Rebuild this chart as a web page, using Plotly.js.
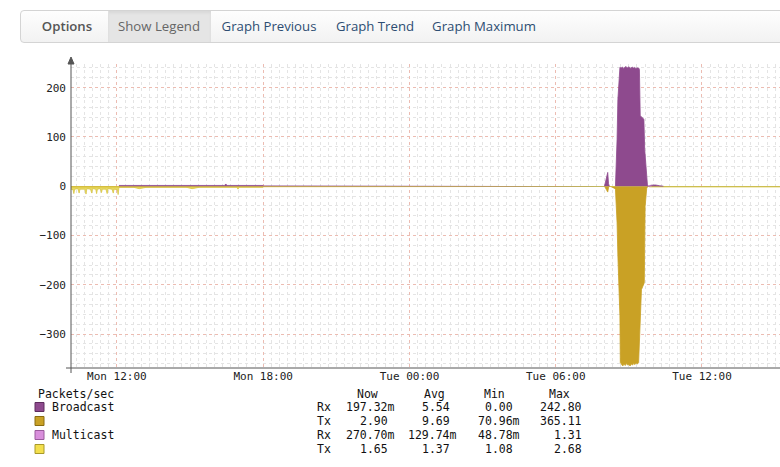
<!DOCTYPE html>
<html>
<head>
<meta charset="utf-8">
<script src="https://cdn.plot.ly/plotly-3.0.1.min.js"></script>
<style>
  html, body { margin:0; padding:0; background:#fff; width:780px; height:467px; overflow:hidden; }
  #chart { position:absolute; left:0; top:0; width:780px; height:467px; }
  #menu { position:absolute; left:20px; top:10px; width:800px; height:31px; border:1px solid #d4d4d4; border-radius:4px;
          background:linear-gradient(#fefefe,#f2f2f2); font-family:'Open Sans', sans-serif; font-size:13.2px; z-index:5; }
  #menu span { position:absolute; top:0; height:31px; line-height:31px; white-space:nowrap; }
</style>
</head>
<body>
<div id="chart"></div>
<div id="menu"></div>
<script>
// ---------- menu ----------
const menuItems = ['Options', 'Show Legend', 'Graph Previous', 'Graph Trend', 'Graph Maximum'];

// ---------- series data (Packets/sec); null = no visible data ----------
const bcRxTime = ['2014-03-10 12:03','2014-03-10 12:05','2014-03-10 13:30','2014-03-10 14:10','2014-03-10 15:00',
  '2014-03-10 16:25','2014-03-10 16:28','2014-03-10 16:31','2014-03-10 18:00','2014-03-10 18:02','2014-03-11 07:58',
  '2014-03-11 08:00','2014-03-11 08:03','2014-03-11 08:06','2014-03-11 08:08','2014-03-11 08:10','2014-03-11 08:12','2014-03-11 08:14',
  '2014-03-11 08:25','2014-03-11 08:27',
  '2014-03-11 08:28','2014-03-11 08:31','2014-03-11 08:33','2014-03-11 08:35','2014-03-11 08:38','2014-03-11 08:41',
  '2014-03-11 08:44','2014-03-11 08:47','2014-03-11 08:50','2014-03-11 08:53','2014-03-11 08:56','2014-03-11 08:59',
  '2014-03-11 09:02','2014-03-11 09:05','2014-03-11 09:08','2014-03-11 09:11','2014-03-11 09:14','2014-03-11 09:17',
  '2014-03-11 09:20','2014-03-11 09:24','2014-03-11 09:26','2014-03-11 09:27','2014-03-11 09:28','2014-03-11 09:32',
  '2014-03-11 09:37','2014-03-11 09:39','2014-03-11 09:41','2014-03-11 09:43','2014-03-11 09:46','2014-03-11 09:55',
  '2014-03-11 10:05','2014-03-11 10:15','2014-03-11 10:25','2014-03-11 10:27'];
const bcRxVal = [null,1.5,1.5,2,1.5,
  1.5,4.5,1.5,1.5,null,null,
  0,10,22,28,5,0,null,
  null,0,
  20,95,176,217,241,240,
  242,239,241,243,240,242,
  241,239,242,240,241,239,
  240,240,237,190,143,140,
  136,75,50,28,0,2,
  2.5,1,0,null];

const bcTxTime = ['2014-03-10 10:07','2014-03-10 12:03','2014-03-10 12:05','2014-03-10 18:00','2014-03-10 18:02','2014-03-11 07:58',
  '2014-03-11 08:00','2014-03-11 08:03','2014-03-11 08:08','2014-03-11 08:10','2014-03-11 08:12','2014-03-11 08:14',
  '2014-03-11 08:25','2014-03-11 08:27','2014-03-11 08:31',
  '2014-03-11 08:33','2014-03-11 08:35','2014-03-11 08:38','2014-03-11 08:39','2014-03-11 08:42','2014-03-11 08:45',
  '2014-03-11 08:48','2014-03-11 08:51','2014-03-11 08:54','2014-03-11 08:57','2014-03-11 09:00','2014-03-11 09:03',
  '2014-03-11 09:06','2014-03-11 09:09','2014-03-11 09:12','2014-03-11 09:15','2014-03-11 09:18','2014-03-11 09:21',
  '2014-03-11 09:24','2014-03-11 09:27','2014-03-11 09:31','2014-03-11 09:38','2014-03-11 09:40','2014-03-11 09:44',
  '2014-03-11 09:47','2014-03-11 09:49'];
const bcTxVal = [-2,-2,-1.5,-1.5,null,null,
  0,-4,-12,-3,0,null,
  null,-6,-74,
  -141,-195,-263,-358,-363,-365,
  -361,-364,-360,-363,-362,-365,
  -361,-363,-360,-362,-359,-361,
  -358,-298,-210,-196,-41,-4,
  0,null];

const mcRxTime = ['2014-03-11 09:48','2014-03-11 09:50','2014-03-11 09:53','2014-03-11 09:56'];
const mcRxVal = [0,1.3,0.5,0];

const mcTxTime = ['2014-03-10 10:07','2014-03-10 10:12','2014-03-10 10:14','2014-03-10 10:16','2014-03-10 10:24','2014-03-10 10:27',
  '2014-03-10 10:29','2014-03-10 10:41','2014-03-10 10:44','2014-03-10 10:46','2014-03-10 10:55','2014-03-10 10:58',
  '2014-03-10 11:00','2014-03-10 11:08','2014-03-10 11:10','2014-03-10 11:12','2014-03-10 11:19','2014-03-10 11:22',
  '2014-03-10 11:24','2014-03-10 11:33','2014-03-10 11:36','2014-03-10 11:38','2014-03-10 11:48','2014-03-10 11:51',
  '2014-03-10 11:53','2014-03-10 12:01','2014-03-10 12:03','2014-03-10 12:05','2014-03-10 12:40','2014-03-10 12:55',
  '2014-03-10 13:14','2014-03-10 14:50','2014-03-10 15:05','2014-03-10 15:24','2014-03-10 16:55','2014-03-10 16:58',
  '2014-03-10 17:01','2014-03-10 18:00','2014-03-10 18:02','2014-03-11 09:47','2014-03-11 09:50','2014-03-11 11:00',
  '2014-03-11 11:03','2014-03-11 11:06','2014-03-11 14:00','2014-03-11 14:03','2014-03-11 14:06','2014-03-11 15:12'];
const mcTxVal = [-6,-7,-15,-6,-5,-14,
  -6,-6,-16,-5,-6,-14,
  -5,-6,-15,-6,-5,-13,
  -6,-6,-15,-5,-6,-14,
  -6,-7,-17,-2,-2,-5,
  -2,-2,-5,-2,-2,-6,
  -2,-2,null,null,-1.5,-1.5,
  -3,-1.5,-1.5,-3,-1.5,-1.5];

// ---------- legend table ----------
const legendTitle = 'Packets/sec';
const legendNames = ['Broadcast', '', 'Multicast', ''];
const legendDirs = ['Rx', 'Tx', 'Rx', 'Tx'];
const statHeaders = ['Now', 'Avg', 'Min', 'Max'];
const nowVals = ['197.32m', '2.90', '270.70m', '1.65'];
const avgVals = ['5.54', '9.69', '129.74m', '1.37'];
const minVals = ['0.00', '70.96m', '48.78m', '1.08'];
const maxVals = ['242.80', '365.11', '1.31', '2.68'];

// ---------- styles ----------
const colors = ['#8e4a8e', '#c9a125', '#d98fdc', '#f3df4d'];
const borders = ['#5e2c5e', '#8a6c12', '#9a5a9c', '#a8992a'];

// menu
const menuPos = [[0, 87, 46], [87, 190, 138], [190, 310, 248], [310, 408, 354], [408, 530, 463]];
const menu = document.getElementById('menu');
menuItems.forEach((t, i) => {
  const s = document.createElement('span');
  const [a, b, c] = menuPos[i];
  s.textContent = t;
  s.style.left = c + 'px';
  s.style.transform = 'translateX(-50%)';
  if (i === 0) { s.style.color = '#555'; s.style.fontWeight = '600'; }
  else if (i === 1) { s.style.color = '#666'; }
  else { s.style.color = '#2d4d72'; }
  menu.appendChild(s);
  if (i === 1) {
    const bg = document.createElement('span');
    bg.style.left = a + 'px'; bg.style.width = (b - a) + 'px';
    bg.style.background = '#e5e5e5'; bg.style.zIndex = '-1';
    bg.style.boxShadow = 'inset 0 2px 3px rgba(0,0,0,0.06)';
    menu.insertBefore(bg, menu.firstChild);
  }
  if (i === 0) {
    const sep = document.createElement('span');
    sep.style.left = b + 'px'; sep.style.width = '1px'; sep.style.background = '#e0e0e0';
    menu.appendChild(sep);
  }
});

// plot geometry helpers (pixel -> paper)
const L = 71, R = 780, T = 64, B = 368;
const px = v => (v - L) / (R - L);
const py = v => (B - v) / (B - T);

const mono = 'DejaVu Sans Mono, monospace';
const traces = [
  {x: bcTxTime, y: bcTxVal, name: 'Broadcast Tx', type: 'scatter', mode: 'lines', fill: 'tozeroy', connectgaps: false,
   line: {color: colors[1], width: 0.8}, fillcolor: colors[1]},
  {x: mcTxTime, y: mcTxVal, name: 'Multicast Tx', type: 'scatter', mode: 'lines', fill: 'tozeroy', connectgaps: false,
   line: {color: '#d9c642', width: 0.8}, fillcolor: 'rgba(226,208,72,0.85)'},
  {x: bcRxTime, y: bcRxVal, name: 'Broadcast Rx', type: 'scatter', mode: 'lines', fill: 'tozeroy', connectgaps: false,
   line: {color: colors[0], width: 0.8}, fillcolor: colors[0]},
  {x: mcRxTime, y: mcRxVal, name: 'Multicast Rx', type: 'scatter', mode: 'lines', fill: 'tozeroy', connectgaps: false,
   line: {color: colors[2], width: 0.8}, fillcolor: colors[2]}
];

const annotations = [];
const shapes = [];
const charW = 7.0;
const tfont = {family: mono, size: 11.5, color: '#111'};
annotations.push({xref: 'paper', yref: 'paper', x: px(36), y: py(394), xanchor: 'left', yanchor: 'middle',
  text: legendTitle, showarrow: false, font: tfont});
const headerX = [367, 434, 495, 559];
statHeaders.forEach((h, i) => annotations.push({xref: 'paper', yref: 'paper', x: px(headerX[i]), y: py(394),
  xanchor: 'center', yanchor: 'middle', text: h, showarrow: false, font: tfont}));
const rowY = [407, 421, 435, 449];
const colEdge = [397, 459, 522, 591];
const cols = [nowVals, avgVals, minVals, maxVals];
legendNames.forEach((n, r) => {
  const y = rowY[r];
  shapes.push({type: 'rect', xref: 'paper', yref: 'paper', x0: px(35), x1: px(44), y0: py(y - 4.5), y1: py(y + 4.5),
    fillcolor: colors[r], line: {color: borders[r], width: 1}});
  if (n) annotations.push({xref: 'paper', yref: 'paper', x: px(50), y: py(y), xanchor: 'left', yanchor: 'middle',
    text: n, showarrow: false, font: tfont});
  annotations.push({xref: 'paper', yref: 'paper', x: px(315), y: py(y), xanchor: 'left', yanchor: 'middle',
    text: legendDirs[r], showarrow: false, font: tfont});
  cols.forEach((c, k) => {
    const v = c[r];
    const edge = v.endsWith('m') ? colEdge[k] : colEdge[k] - charW;
    annotations.push({xref: 'paper', yref: 'paper', x: px(edge), y: py(y), xanchor: 'right', yanchor: 'middle',
      text: v, showarrow: false, font: tfont});
  });
});

// axis lines with arrow
shapes.push({type: 'line', xref: 'paper', yref: 'paper', x0: px(71), x1: px(71), y0: py(373), y1: py(60),
  line: {color: '#555', width: 1}});
shapes.push({type: 'line', xref: 'paper', yref: 'paper', x0: px(66), x1: px(780), y0: py(368), y1: py(368),
  line: {color: '#555', width: 1}});
shapes.push({type: 'path', xref: 'paper', yref: 'paper',
  path: `M ${px(68)} ${py(64)} L ${px(71)} ${py(57)} L ${px(74)} ${py(64)} Z`, fillcolor: '#555', line: {color: '#555', width: 1}});

const layout = {
  width: 780, height: 467,
  margin: {l: L, r: 780 - R, t: T, b: 467 - B, pad: 0},
  paper_bgcolor: '#ffffff', plot_bgcolor: '#ffffff',
  showlegend: false,
  xaxis: {
    type: 'date', range: ['2014-03-10 10:07', '2014-03-11 15:12'],
    tick0: '2014-03-10 00:00', dtick: 6 * 3600 * 1000, tickformat: '%a %H:%M',
    showgrid: true, gridcolor: '#ecbcb2', griddash: 'dot', gridwidth: 1,
    minor: {tick0: '2014-03-10 00:00', dtick: 20 * 60 * 1000, showgrid: true, gridcolor: '#e4e4e4', griddash: 'dot', gridwidth: 1},
    showline: false, zeroline: false, ticks: '',
    tickfont: {family: mono, size: 11, color: '#222'}, fixedrange: true
  },
  yaxis: {
    range: [-369, 248], tick0: 0, dtick: 100,
    showgrid: true, gridcolor: '#ecbcb2', griddash: 'dot', gridwidth: 1,
    minor: {tick0: 0, dtick: 20, showgrid: true, gridcolor: '#e4e4e4', griddash: 'dot', gridwidth: 1},
    zeroline: true, zerolinecolor: '#8a8a8a', zerolinewidth: 1,
    showline: false, ticks: '', ticklabelstandoff: 4,
    tickfont: {family: mono, size: 11, color: '#222'}, fixedrange: true
  },
  annotations: annotations,
  shapes: shapes
};

Plotly.newPlot('chart', traces, layout, {displayModeBar: false, staticPlot: true});
</script>
</body>
</html>
